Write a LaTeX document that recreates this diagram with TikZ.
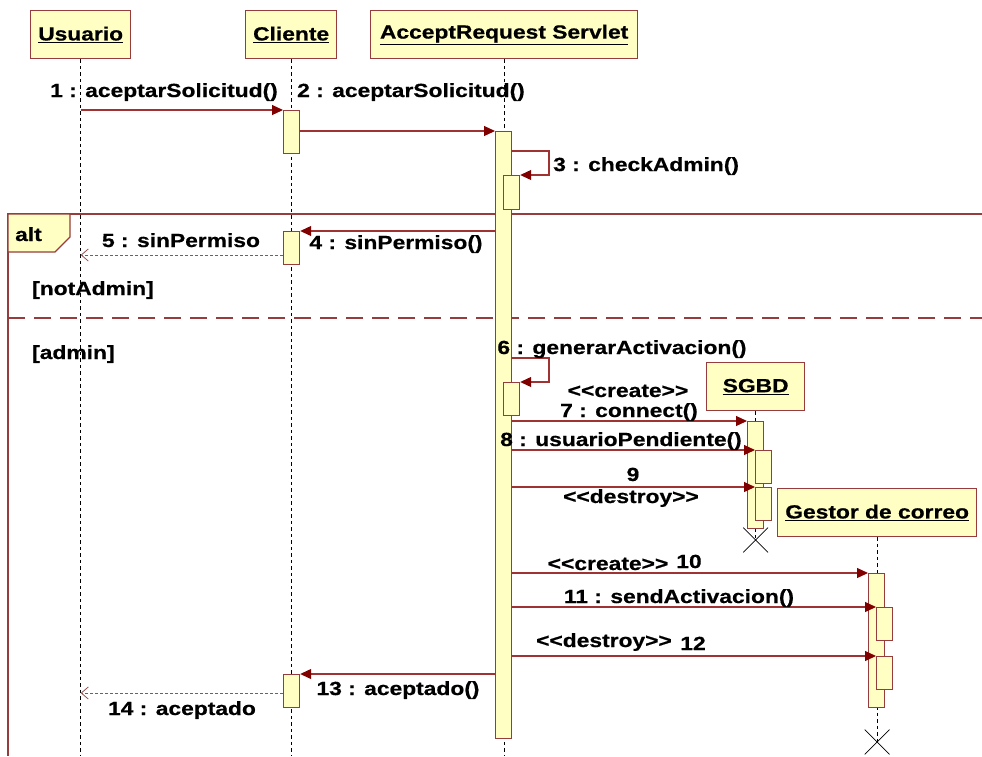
\documentclass[tikz,border=0pt]{standalone}
\usepackage{fontspec}
\setmainfont{Liberation Sans}[FakeStretch=1.2, BoldFeatures={FakeBold=0.6}]
\usetikzlibrary{arrows.meta,calc,shapes.misc}
\definecolor{boxfill}{RGB}{255,255,196}
\definecolor{boxline}{RGB}{150,60,60}
\definecolor{msgline}{RGB}{160,50,50}
\definecolor{headred}{RGB}{128,0,0}
\definecolor{retline}{RGB}{150,80,80}
\newcommand{\lt}{<\kern0pt<}
\newcommand{\gt}{>\kern0pt>}
\begin{document}
\begin{tikzpicture}[x=1pt,y=-1pt,
  every node/.style={font=\fontsize{19}{22}\selectfont\bfseries, inner sep=0pt},
  obj/.style={draw=boxline, fill=boxfill, line width=1.3pt, minimum height=48pt, anchor=north west},
  act/.style={draw=boxline, fill=boxfill, line width=1.2pt, minimum width=16pt, anchor=north west},
  life/.style={black, line width=0.9pt, dash pattern=on 3.5pt off 3pt},
  msg/.style={msgline, line width=1.2pt, -{Triangle[length=11pt,width=10pt,color=headred,fill=headred]}},
  ret/.style={retline, line width=1pt, dash pattern=on 3pt off 2pt, -{Straight Barb[length=7pt,width=12pt,line width=0.8pt]}},
  lbl/.style={text=black, anchor=base},
  frameline/.style={boxline, line width=1.3pt},
  destroy/.style={draw=black, line width=0.8pt, cross out, minimum size=24pt}
]
\useasboundingbox (0,0) rectangle (982,756);
\coordinate (bot) at (0,756);
\coordinate (rgt) at (982,0);

% combined fragment: alt
\coordinate (altcorner) at (8,214);
\draw[frameline] (rgt |- altcorner) -- (altcorner) -- (altcorner |- bot);
\draw[boxline, line width=1.3pt, dash pattern=on 17pt off 9pt] (8,318) -- (rgt |- 0,318);
\filldraw[frameline, fill=boxfill] (altcorner) -- (70,214) -- (70,237) -- (55,252) -- (8,252) -- cycle;
\node[lbl, anchor=base west] (altlbl) at (15,241) {alt};
\node[lbl, anchor=base west] (g1) at (32,295) {[notAdmin]};
\node[lbl, anchor=base west] (g2) at (32,359) {[admin]};

% objects
\node[obj, minimum width=100pt] (usuario) at (30,10) {\underline{Usuario}};
\node[obj, minimum width=91pt] (cliente) at (245,10) {\underline{Cliente}};
\node[obj, minimum width=267pt] (servlet) at (370,10) {\underline{AcceptRequest Servlet}};
\node[obj, minimum width=98pt] (sgbd) at (706,362) {\underline{SGBD}};
\node[obj, minimum width=199pt] (gestor) at (777,488) {\underline{Gestor de correo}};

% destruction marks
\node[destroy] (xsgbd) at (sgbd.south |- 0,540) {};
\node[destroy] (xgestor) at (gestor.south |- 0,742) {};

% lifelines
\draw[life] (usuario.south) -- (usuario.south |- bot);
\draw[life] (cliente.south) -- (cliente.south |- bot);
\draw[life] (servlet.south) -- (servlet.south |- bot);
\draw[life] (sgbd.south) -- (xsgbd.center);
\draw[life] (gestor.south) -- (xgestor.center);

% activations
\node[act, minimum height=43pt] (c1) at (283,110) {};
\node[act, minimum height=607pt] (s0) at (495,131) {};
\node[act, minimum height=34pt] (s3) at (503,175) {};
\node[act, minimum height=33pt] (c2) at (283,231) {};
\node[act, minimum height=33pt] (s6) at (503,382) {};
\node[act, minimum height=107pt] (d0) at (747,421) {};
\node[act, minimum height=33pt] (d8) at (755,450) {};
\node[act, minimum height=33pt] (d9) at (755,487) {};
\node[act, minimum height=134pt] (e0) at (868,573) {};
\node[act, minimum height=33pt] (e11) at (876,607) {};
\node[act, minimum height=33pt] (e12) at (876,656) {};
\node[act, minimum height=33pt] (c13) at (283,674) {};

% messages
\draw[msg] (usuario.south |- c1.north) -- (c1.north west);
\draw[msg] (c1.east |- s0.north) -- (s0.north west);
\coordinate (m3) at (511,151);
\draw[msg] (m3) -- ++(38,0) |- (s3.north east);
\draw[msg] (s0.west |- c2.north) -- (c2.north east);
\coordinate (m5) at (283,255);
\draw[ret] (m5) -- (usuario.south |- m5);
\coordinate (m6) at (511,358);
\draw[msg] (m6) -- ++(38,0) |- (s6.north east);
\draw[msg] (s0.east |- d0.north) -- (d0.north west);
\draw[msg] (s0.east |- d8.north) -- (d8.north west);
\draw[msg] (s0.east |- d9.north) -- (d9.north west);
\draw[msg] (s0.east |- e0.north) -- (e0.north west);
\draw[msg] (s0.east |- e11.north) -- (e11.north west);
\draw[msg] (s0.east |- e12.north) -- (e12.north west);
\draw[msg] (s0.west |- c13.north) -- (c13.north east);
\coordinate (m14) at (283,693);
\draw[ret] (m14) -- (usuario.south |- m14);

% message labels
\node[lbl] (l1) at (164,97) {1 : aceptarSolicitud()};
\node[lbl] (l2) at (411,97) {2 : aceptarSolicitud()};
\node[lbl, anchor=base west] (l3) at (553,171) {3 : checkAdmin()};
\node[lbl] (l4) at (396,249) {4 : sinPermiso()};
\node[lbl] (l5) at (181,247) {5 : sinPermiso};
\node[lbl] (l6) at (622,354) {6 : generarActivacion()};
\node[lbl] (l7a) at (628,397) {\lt create\gt};
\node[lbl] (l7) at (629,417) {7 : connect()};
\node[lbl] (l8) at (621,446) {8 : usuarioPendiente()};
\node[lbl] (l9) at (633,481) {9};
\node[lbl] (l9a) at (631,503) {\lt destroy\gt};
\node[lbl] (l10a) at (608,570) {\lt create\gt};
\node[lbl] (l10) at (689,568) {10};
\node[lbl] (l11) at (679,603) {11 : sendActivacion()};
\node[lbl] (l12a) at (604,647) {\lt destroy\gt};
\node[lbl] (l12) at (693,650) {12};
\node[lbl] (l13) at (398,695) {13 : aceptado()};
\node[lbl] (l14) at (182,715) {14 : aceptado};
\end{tikzpicture}
\end{document}
